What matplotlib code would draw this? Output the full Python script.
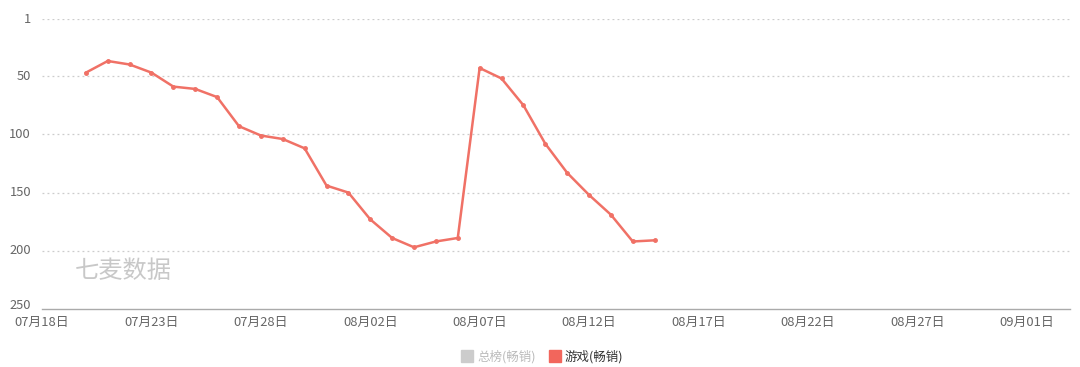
import datetime as dt
import matplotlib
matplotlib.use('Agg')
import matplotlib.pyplot as plt
import matplotlib.dates as mdates
from matplotlib.lines import Line2D

plt.rcParams['font.family'] = ['Noto Sans CJK SC', 'DejaVu Sans']

# daily rank of the game (grossing), 07/20 .. 08/15
start = dt.date(2019, 7, 20)
ranks = [47, 37, 40, 47, 59, 61, 68, 93, 101, 104, 112, 144, 150, 173,
         189, 197, 192, 189, 43, 52, 75, 108, 133, 152, 169, 192, 191]
days = [start + dt.timedelta(days=i) for i in range(len(ranks))]

yticks = [1, 50, 100, 150, 200, 250]
xticks = [dt.date(2019, 7, 18) + dt.timedelta(days=5 * i) for i in range(10)]
legend_labels = ['总榜(畅销)', '游戏(畅销)']

line_color = '#f07166'

fig = plt.figure(figsize=(10.8, 3.67), dpi=100)
ax = fig.add_axes([0.039, 0.158, 0.952, 0.79])

ax.plot(days, ranks, color=line_color, lw=1.8, marker='o', ms=2.5, zorder=3)

ax.set_ylim(250, 1)
ax.set_yticks(yticks)
ax.set_xlim(dt.date(2019, 7, 18), dt.date(2019, 9, 3))
ax.set_xticks(xticks)
ax.xaxis.set_major_formatter(mdates.DateFormatter('%m月%d日'))

for y in yticks[:-1]:
    ax.axhline(y, color='#cccccc', lw=0.9, ls=(0, (1.5, 2.5)), zorder=1)

for s in ['top', 'right', 'left']:
    ax.spines[s].set_visible(False)
ax.spines['bottom'].set_color('#aaaaaa')
ax.spines['bottom'].set_linewidth(1.0)
ax.tick_params(length=0, labelsize=9.3, colors='#666666')
ax.tick_params(axis='y', pad=8)
ax.tick_params(axis='x', pad=5)
for t in ax.get_yticklabels():
    t.set_va('baseline' if t.get_text() == '250' else 'center')

# watermark
ax.text(0.032, 0.13, '七麦数据', transform=ax.transAxes, fontsize=17.5,
        color='#c8c8c8', va='center', ha='left')

handles = [Line2D([], [], ls='none', marker='s', ms=9, color='#cccccc'),
           Line2D([], [], ls='none', marker='s', ms=9, color='#f2665c')]
leg = fig.legend(handles, legend_labels, loc='center', bbox_to_anchor=(0.502, 0.027),
                 ncol=2, frameon=False, fontsize=9, handletextpad=0.3,
                 columnspacing=1.0, handlelength=1.0)
leg.get_texts()[0].set_color('#bbbbbb')
leg.get_texts()[1].set_color('#333333')

fig.savefig('out.png', dpi=100)
